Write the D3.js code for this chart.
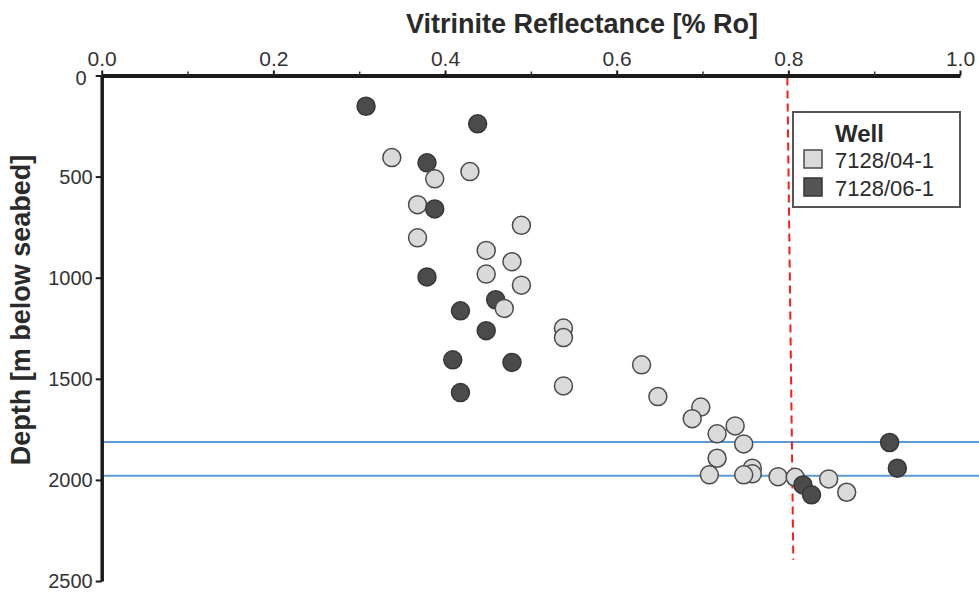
<!DOCTYPE html>
<html>
<head>
<meta charset="utf-8">
<script src="https://cdn.jsdelivr.net/npm/d3@7"></script>
<style>
  body { margin: 0; background: #fff; }
  svg { font-family: "Liberation Sans", Arial, sans-serif; }
</style>
</head>
<body>
<svg id="chart" width="979" height="594"></svg>
<script>
// well 7128/04-1 (light) : reflectance [%Ro], depth [m]
const ro041 = [0.338, 0.388, 0.429, 0.368, 0.489, 0.368, 0.448, 0.478, 0.448, 0.489,
               0.469, 0.538, 0.538, 0.538, 0.629, 0.648, 0.698, 0.688, 0.738, 0.717,
               0.748, 0.717, 0.708, 0.758, 0.748, 0.758, 0.788, 0.808, 0.847, 0.868];
const depth041 = [406, 511, 475, 639, 741, 803, 865, 921, 982, 1037,
                  1152, 1249, 1296, 1535, 1431, 1588, 1640, 1697, 1733, 1772,
                  1822, 1893, 1975, 1942, 1975, 1970, 1984, 1987, 1995, 2061];

// well 7128/06-1 (dark)
const ro061 = [0.308, 0.438, 0.379, 0.388, 0.379, 0.459, 0.418, 0.448, 0.409, 0.478,
               0.418, 0.918, 0.927, 0.817, 0.827];
const depth061 = [152, 239, 432, 660, 996, 1109, 1164, 1262, 1406, 1419,
                  1568, 1815, 1942, 2025, 2074];

const wells = ["7128/04-1", "7128/06-1"];
const xTicks = [0, 0.2, 0.4, 0.6, 0.8, 1.0];
const xMinorTicks = [0.1, 0.3, 0.5, 0.7, 0.9];
const yTicks = [0, 500, 1000, 1500, 2000, 2500];
const redLine = 0.8;          // Ro limit
const blueLines = [1812, 1980]; // horizons

const svg = d3.select("#chart");

// echelles
const x = d3.scaleLinear().domain([0, 1]).range([101.7, 960]);
const y = d3.scaleLinear().domain([0, 2500]).range([75.5, 581]);

const fillCol = { "7128/04-1": "#dadada", "7128/06-1": "#4b4b4b" };
const strokeCol = { "7128/04-1": "#4a4a4a", "7128/06-1": "#363636" };

// horizons bleus
svg.selectAll(".horizon")
  .data(blueLines)
  .enter().append("line")
  .attr("class", "horizon")
  .attr("x1", x(0)).attr("x2", 979)
  .attr("y1", d => y(d)).attr("y2", d => y(d))
  .attr("stroke", "#5b9bd5")
  .attr("stroke-width", 2);

// ligne rouge pointillee
svg.append("line")
  .attr("x1", x(redLine) - 1).attr("x2", x(redLine) + 5)
  .attr("y1", y(0) + 2).attr("y2", y(2395))
  .attr("stroke", "#ff1a1a")
  .attr("stroke-width", 2)
  .attr("stroke-dasharray", "8,5");

// points, dessines par profondeur
let points = [];
ro041.forEach((r, i) => points.push({ well: wells[0], ro: r, depth: depth041[i] }));
ro061.forEach((r, i) => points.push({ well: wells[1], ro: r, depth: depth061[i] }));
points.sort((a, b) => a.depth - b.depth);

svg.selectAll(".pt")
  .data(points)
  .enter().append("circle")
  .attr("class", "pt")
  .attr("cx", d => x(d.ro))
  .attr("cy", d => y(d.depth))
  .attr("r", 9)
  .attr("fill", d => fillCol[d.well])
  .attr("stroke", d => strokeCol[d.well])
  .attr("stroke-width", 1.5);

// axe x (en haut)
const xAxis = svg.append("g")
  .attr("transform", `translate(0,${y(0)})`)
  .call(d3.axisTop(x).tickValues(xTicks).tickFormat(d3.format(".1f")).tickSize(5).tickSizeOuter(0));
svg.append("g")
  .attr("transform", `translate(0,${y(0)})`)
  .call(d3.axisTop(x).tickValues(xMinorTicks).tickFormat("").tickSize(4).tickSizeOuter(0))
  .call(g => g.select(".domain").remove())
  .selectAll("line").attr("stroke", "#333").attr("stroke-width", 1.5);

xAxis.select(".domain").attr("stroke", "#1a1a1a").attr("stroke-width", 4);
xAxis.selectAll(".tick line").attr("stroke", "#1a1a1a").attr("stroke-width", 2);
xAxis.selectAll(".tick text")
  .attr("font-size", 21).attr("fill", "#333").attr("y", -10);

// axe y
const yAxis = svg.append("g")
  .attr("transform", `translate(${x(0)},0)`)
  .call(d3.axisLeft(y).tickValues(yTicks).tickFormat(d3.format("d")).tickSize(6).tickSizeOuter(0));
yAxis.select(".domain").attr("stroke", "#1a1a1a").attr("stroke-width", 3.5);
yAxis.selectAll(".tick line").attr("stroke", "#1a1a1a").attr("stroke-width", 2);
yAxis.selectAll(".tick text")
  .attr("font-size", 20).attr("fill", "#333")
  .attr("x", d => d === 0 ? -15 : -9)
  .attr("dy", d => d === 0 ? "0.45em" : "0.32em");

// titres
svg.append("text")
  .attr("x", 582).attr("y", 33)
  .attr("text-anchor", "middle")
  .attr("font-size", 27).attr("font-weight", "bold").attr("fill", "#2a2a2a")
  .text("Vitrinite Reflectance [% Ro]");

svg.append("text")
  .attr("transform", "translate(30,310) rotate(-90)")
  .attr("text-anchor", "middle")
  .attr("font-size", 27).attr("font-weight", "bold").attr("fill", "#2a2a2a")
  .text("Depth [m below seabed]");

// legende
const leg = svg.append("g");
leg.append("rect")
  .attr("x", 793).attr("y", 112).attr("width", 167).attr("height", 95)
  .attr("fill", "#fff").attr("stroke", "#555").attr("stroke-width", 2);
leg.append("text")
  .attr("x", 835).attr("y", 142)
  .attr("font-size", 24).attr("font-weight", "bold").attr("fill", "#2a2a2a")
  .text("Well");
const items = leg.selectAll(".item")
  .data(wells)
  .enter().append("g")
  .attr("transform", (d, i) => `translate(0,${i * 28})`);
items.append("rect")
  .attr("x", 804).attr("y", 150).attr("width", 18).attr("height", 18)
  .attr("fill", d => fillCol[d] === "#4b4b4b" ? "#555" : fillCol[d])
  .attr("stroke", d => strokeCol[d]).attr("stroke-width", 1.5);
items.append("text")
  .attr("x", 835).attr("y", 168)
  .attr("font-size", 22).attr("fill", "#2a2a2a")
  .text(d => d);
</script>
</body>
</html>
